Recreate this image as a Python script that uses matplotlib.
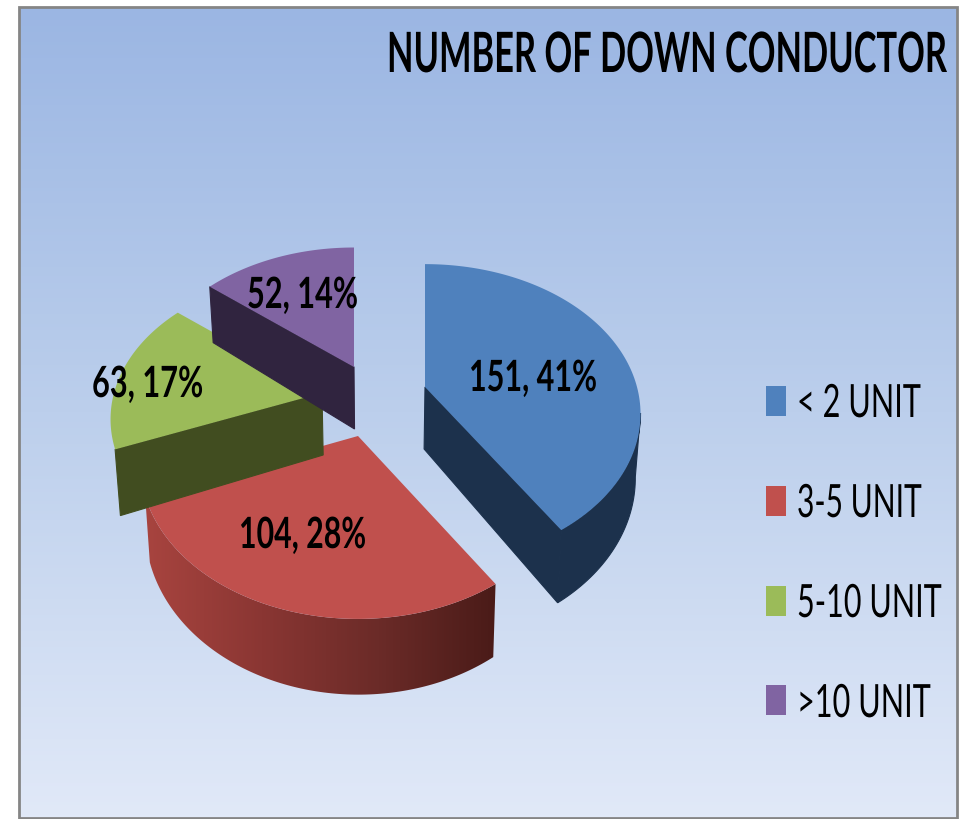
import numpy as np
import matplotlib
matplotlib.use("Agg")
import matplotlib.pyplot as plt
from matplotlib.colors import LinearSegmentedColormap
from matplotlib.patches import Polygon, Rectangle
from matplotlib.patheffects import AbstractPathEffect
from matplotlib.transforms import Affine2D

# chart data
categories = ["< 2 UNIT", "3-5 UNIT", "5-10 UNIT", ">10 UNIT"]
values = [151, 104, 63, 52]
title = "NUMBER OF DOWN CONDUCTOR"

# styles and layout, in picture pixels
top_colors = ["#4f81bd", "#c0504d", "#9bbb59", "#8064a2"]
side_colors = ["#1c314c", "#6e2a28", "#414d20", "#30243f"]
apexes = [(425, 387), (358, 436), (322, 393), (354, 367)]
radii_x = [212, 214, 208, 208]
radii_y = [145, 150, 141, 141]
has_rim = [True, True, False, False]
draw_order = [3, 2, 0, 1]
label_box = [(469, 597, 391), (239, 366, 548), (92, 203, 397), (247, 358, 308)]
legend_box = [(797, 921, 417), (797, 922, 517), (797, 942, 617), (797, 931, 717)]
swatch_y = [386, 486, 586, 685]
font = ["Lato", "DejaVu Sans"]

PERSP = 0.18
W, H = 964, 819

fig = plt.figure(figsize=(W / 100, H / 100), dpi=100)
ax = fig.add_axes([0, 0, 1, 1])
ax.set_xlim(0, W)
ax.set_ylim(H, 0)
ax.axis("off")
renderer = fig.canvas.get_renderer()


class Squeeze(AbstractPathEffect):
    # the reference font is narrower than anything installed
    def __init__(self, sx, xc):
        super().__init__()
        self.sx, self.xc = sx, xc

    def draw_path(self, renderer, gc, tpath, affine, rgbFace=None):
        squeeze = Affine2D().translate(-self.xc, 0).scale(self.sx, 1).translate(self.xc, 0)
        renderer.draw_path(gc, tpath, affine + squeeze, rgbFace)


def fit_text(s, left, right, baseline, size, weight):
    t = ax.text(right, baseline, s, ha="right", va="baseline", fontsize=size,
                fontweight=weight, family=font, color="black", zorder=10)
    width = t.get_window_extent(renderer).width
    t.set_path_effects([Squeeze((right - left) / width, right)])
    return t


def project(apex, rx, ry, theta):
    # theta is clockwise from the top of the pie, in degrees
    t = np.radians(theta)
    u, v = np.sin(t), -np.cos(t)
    s = 1 / (1 - PERSP * v)
    return np.column_stack([apex[0] + rx * u * s, apex[1] + ry * v * s])


def drop(pts, apex):
    # underside of the pie: nearer parts look thicker
    depth = 62 + 0.075 * (pts[:, 1] - apex[1])
    return np.column_stack([380 + (pts[:, 0] - 380) * 0.98, pts[:, 1] + depth])


# background gradient inside the grey frame
bg = LinearSegmentedColormap.from_list("bg", ["#9bb6e3", "#bccfec", "#e1e9f8"])
ax.imshow(np.linspace(0, 1, 256).reshape(-1, 1), cmap=bg, aspect="auto",
          extent=(19, 957, 818, 7), zorder=0)
ax.add_patch(Rectangle((19, 7), 938, 811, fill=False, ec="#858585", lw=2, zorder=1))

shares = np.array(values) / sum(values)
edges = np.concatenate([[0], np.cumsum(shares)]) * 360

for i in draw_order:
    t0, t1 = edges[i], edges[i + 1]
    apex, rx, ry = apexes[i], radii_x[i], radii_y[i]
    arc = project(apex, rx, ry, np.linspace(t0, t1, 120))
    apex_pt = np.array([apex], dtype=float)
    side = side_colors[i]

    # outer rim, front part only
    if has_rim[i]:
        front = arc[arc[:, 1] > apex[1] + 25]
        rim = np.vstack([front, drop(front, apex)[::-1]])
        if i == 1:
            red = LinearSegmentedColormap.from_list(
                "red", ["#a8443f", "#8a3633", "#6b2b28", "#4a1b18"])
            patch = Polygon(rim, closed=True, fc="none", ec="none", zorder=2 + i)
            ax.add_patch(patch)
            im = ax.imshow(np.linspace(0, 1, 256).reshape(1, -1), cmap=red, aspect="auto",
                           extent=(rim[:, 0].min(), rim[:, 0].max(), 700, 490), zorder=2 + i)
            im.set_clip_path(patch)
        else:
            ax.add_patch(Polygon(rim, closed=True, fc=side, ec=side, lw=0.8, zorder=2 + i))

    # flat cut faces that turn towards the viewer
    for theta, normal in [(t0, t0 - 90), (t1, t1 + 90)]:
        if -np.cos(np.radians(normal)) > 0.01:
            edge = np.vstack([apex_pt, project(apex, rx, ry, np.array([theta]))])
            face = np.vstack([edge, drop(edge, apex)[::-1]])
            ax.add_patch(Polygon(face, closed=True, fc=side, ec=side, lw=0.8, zorder=2 + i))

    # top surface
    ax.add_patch(Polygon(np.vstack([apex_pt, arc]), closed=True, fc=top_colors[i],
                         ec="none", zorder=2.5 + i))

for v, share, (left, right, base) in zip(values, shares, label_box):
    fit_text(f"{v}, {round(share * 100)}%", left, right, base, 31, "bold")

fit_text(title, 387, 947, 72, 40, "bold")

# legend
for name, color, y, (left, right, base) in zip(categories, top_colors, swatch_y, legend_box):
    ax.add_patch(Rectangle((766, y), 20, 30, fc=color, ec="none", zorder=5))
    fit_text(name, left, right, base, 33, "normal")

ax.set_xlim(0, W)
ax.set_ylim(H, 0)
fig.savefig("out.png", dpi=100)
